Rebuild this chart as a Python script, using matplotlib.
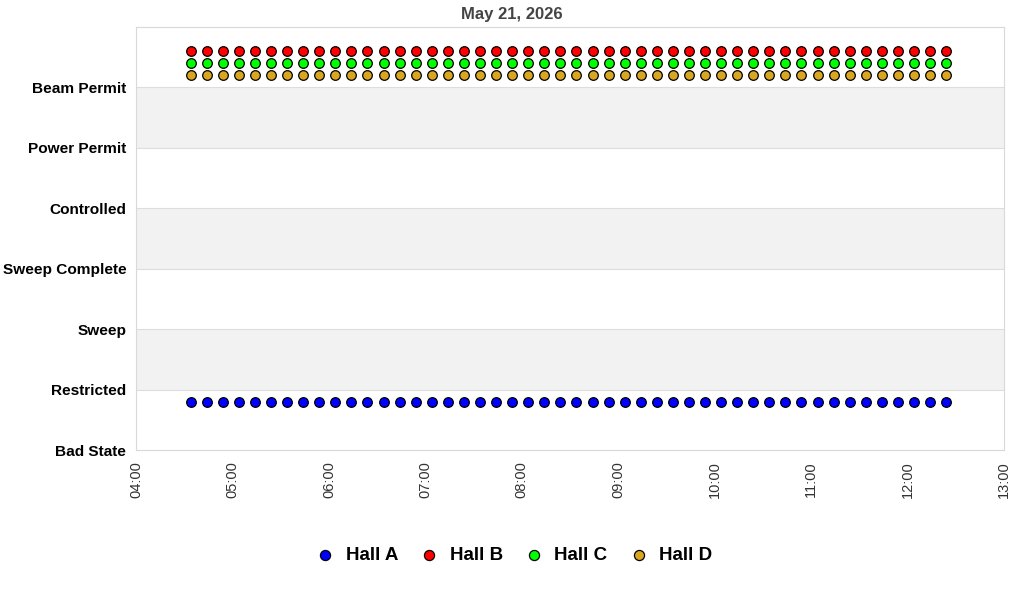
import matplotlib.pyplot as plt
import pandas as pd

plt.rcParams['font.family'] = ['Liberation Sans', 'DejaVu Sans']

# Sample times (one reading every 10 minutes)
sample_times = pd.date_range("2026-05-21 04:34", periods=48, freq="10min")

# State levels, bottom to top
state_labels = ["Bad State", "Restricted", "Sweep", "Sweep Complete",
                "Controlled", "Power Permit", "Beam Permit"]

# State index per hall at every sample
hall_a_state = [0, 0, 0, 0, 0, 0, 0, 0, 0, 0, 0, 0, 0, 0, 0, 0,
                0, 0, 0, 0, 0, 0, 0, 0, 0, 0, 0, 0, 0, 0, 0, 0,
                0, 0, 0, 0, 0, 0, 0, 0, 0, 0, 0, 0, 0, 0, 0, 0]
hall_b_state = [6, 6, 6, 6, 6, 6, 6, 6, 6, 6, 6, 6, 6, 6, 6, 6,
                6, 6, 6, 6, 6, 6, 6, 6, 6, 6, 6, 6, 6, 6, 6, 6,
                6, 6, 6, 6, 6, 6, 6, 6, 6, 6, 6, 6, 6, 6, 6, 6]
hall_c_state = [6, 6, 6, 6, 6, 6, 6, 6, 6, 6, 6, 6, 6, 6, 6, 6,
                6, 6, 6, 6, 6, 6, 6, 6, 6, 6, 6, 6, 6, 6, 6, 6,
                6, 6, 6, 6, 6, 6, 6, 6, 6, 6, 6, 6, 6, 6, 6, 6]
hall_d_state = [6, 6, 6, 6, 6, 6, 6, 6, 6, 6, 6, 6, 6, 6, 6, 6,
                6, 6, 6, 6, 6, 6, 6, 6, 6, 6, 6, 6, 6, 6, 6, 6,
                6, 6, 6, 6, 6, 6, 6, 6, 6, 6, 6, 6, 6, 6, 6, 6]

hall_names = ["Hall A", "Hall B", "Hall C", "Hall D"]
hall_colors = ["#0000ff", "#ff0000", "#00ff00", "#daa520"]
# each hall drawn a bit above its state line so they don't overlap
hall_offsets = [0.8, 0.6, 0.4, 0.2]

hour_ticks = pd.date_range("2026-05-21 04:00", "2026-05-21 13:00", freq="h")

fig = plt.figure(figsize=(10.24, 6), dpi=100)
ax = fig.add_axes([0.1328, 0.25, 0.8477, 0.705])

# alternating grey bands
for lo in [1, 3, 5]:
    ax.axhspan(lo, lo + 1, color="#f2f2f2", zorder=0, lw=0)
for y in range(1, 7):
    ax.axhline(y, color="#dddddd", lw=0.8, zorder=0.5)

all_states = [hall_a_state, hall_b_state, hall_c_state, hall_d_state]
for name, states, col, off in zip(hall_names, all_states, hall_colors, hall_offsets):
    ax.scatter(sample_times, [s + off for s in states], s=48, c=col,
               edgecolors="black", linewidths=0.9, label=name, zorder=3)

ax.set_ylim(0, 7)
ax.set_yticks(range(len(state_labels)))
ax.set_yticklabels(state_labels, fontsize=11.1, fontweight="bold")
ax.tick_params(axis="y", length=0, pad=7)

ax.set_xlim(hour_ticks[0], hour_ticks[-1])
ax.set_xticks(hour_ticks, labels=[t.strftime("%H:%M") for t in hour_ticks],
              rotation=90, fontsize=10.5, color="#333333")
ax.tick_params(axis="x", length=0, pad=8)

for sp in ax.spines.values():
    sp.set_color("#d9d9d9")

fig.suptitle("May 21, 2026", x=0.5, y=0.988, va="top", fontsize=12,
             fontweight="bold", color="#444444")

fig.legend(loc="center", bbox_to_anchor=(0.502, 0.074), ncol=4, frameon=False,
           prop={"size": 13.5, "weight": "bold"}, handlelength=1.0,
           handletextpad=0.6, columnspacing=1.15, markerscale=1.05)

fig.savefig("out.png", dpi=100)
